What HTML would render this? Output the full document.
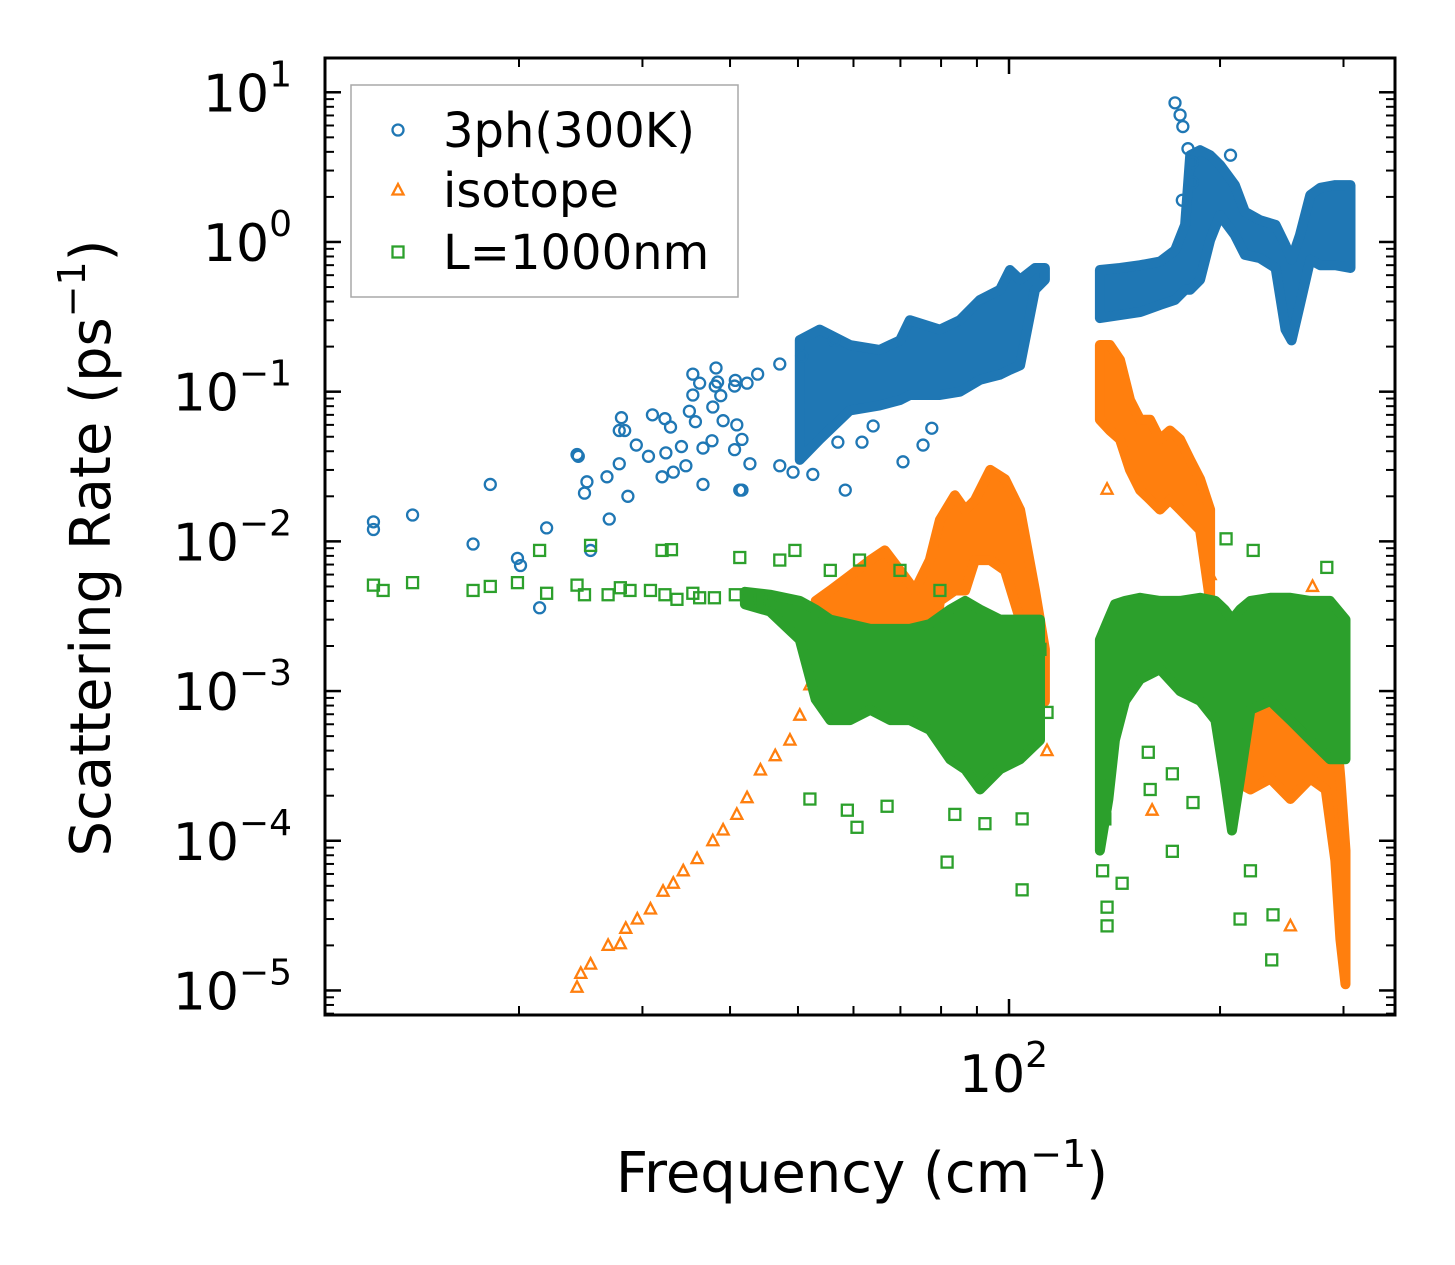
<!DOCTYPE html>
<html><head><meta charset="utf-8"><style>
html,body{margin:0;padding:0;background:#fff;}
svg{display:block;font-family:"DejaVu Sans","Liberation Sans",sans-serif;}
</style></head><body>
<svg id="chart" width="1455" height="1265" viewBox="0 0 1455 1265" xmlns="http://www.w3.org/2000/svg">
<g id="bands"></g>
<g id="marks"></g>
<g id="axes"></g>
</svg>
<script>
// ---- data ----
const phScatter = [[12.4,0.0135],[12.4,0.012],[14.1,0.015],[17.2,0.0096],[18.2,0.024],[19.9,0.0077],[20.1,0.0069],[21.4,0.0036],[21.9,0.0123],[24.2,0.038],[24.3,0.037],[25.0,0.025],[24.8,0.021],[25.3,0.0087],[26.7,0.027],[27.8,0.033],[28.0,0.067],[27.8,0.055],[28.3,0.055],[28.6,0.020],[26.9,0.0141],[29.4,0.044],[30.6,0.037],[31.0,0.070],[32.3,0.066],[32.9,0.058],[32.4,0.039],[32.0,0.027],[33.2,0.029],[34.1,0.043],[34.6,0.032],[35.4,0.131],[35.4,0.095],[36.2,0.114],[35.0,0.074],[35.7,0.063],[36.6,0.042],[37.7,0.047],[36.6,0.024],[38.2,0.144],[38.4,0.116],[38.1,0.109],[37.8,0.079],[38.8,0.094],[39.1,0.064],[40.7,0.119],[40.6,0.109],[40.6,0.041],[41.3,0.022],[41.6,0.048],[40.9,0.060],[42.3,0.114],[43.8,0.131],[47.1,0.153],[50.6,0.173],[56.3,0.22],[42.7,0.033],[47.1,0.032],[49.2,0.029],[52.5,0.028],[41.6,0.022],[58.4,0.022],[57.0,0.046],[61.7,0.046],[70.6,0.034],[75.4,0.044],[77.6,0.057],[64.0,0.059],[172.5,8.5],[175.4,7.05],[177,5.9],[180,4.2],[182.6,3.4],[182.6,2.5],[207,3.8],[176.7,1.9]];
const phBandLeft = [[50.3,0.035,0.221],[53.7,0.048,0.26],[59.3,0.075,0.205],[65.4,0.081,0.19],[69.9,0.088,0.22],[72.2,0.095,0.30],[79.7,0.095,0.26],[85.1,0.10,0.30],[90.9,0.12,0.41],[97.1,0.13,0.48],[100.3,0.14,0.65],[103.7,0.15,0.56],[108.9,0.48,0.67],[112.5,0.56,0.67]];
const phBandRight = [[134.8,0.31,0.65],[144,0.325,0.67],[153.8,0.34,0.70],[164.2,0.38,0.74],[172.5,0.41,0.88],[178.3,0.48,1.30],[181.3,0.48,3.8],[187.3,0.56,4.1],[193.6,1.03,3.8],[200,1.51,3.27],[210,1.11,2.4],[217,0.82,1.59],[228,0.78,1.40],[240,0.67,1.30],[248,0.26,0.95],[253,0.22,0.76],[260,0.38,1.11],[269,0.76,2.06],[278,0.70,2.3],[292,0.70,2.4],[307,0.67,2.4]];

const isoScatter = [[24.2,1.05e-5],[24.5,1.3e-5],[25.3,1.5e-5],[26.8,2.0e-5],[27.9,2.05e-5],[28.4,2.6e-5],[29.5,3.0e-5],[30.8,3.5e-5],[32.1,4.6e-5],[33.2,5.2e-5],[34.3,6.3e-5],[35.9,7.6e-5],[37.8,1.0e-4],[39.1,1.18e-4],[40.9,1.5e-4],[42.3,1.94e-4],[44.2,2.97e-4],[46.4,3.7e-4],[48.7,4.7e-4],[50.3,6.9e-4],[52.0,1.1e-3],[113.3,4.0e-4],[138,0.0223],[138,0.0022],[160,1.6e-4],[252,2.7e-5],[271,0.0050],[193.6,0.0060]];
const isoBandMid = [[53.0,0.00101,0.0040],[55.6,0.001,0.0047],[59.3,0.001,0.0059],[63.4,0.001,0.0075],[66.5,0.001,0.0087],[69.9,0.001,0.0064],[73.4,0.001,0.0047],[77.1,0.0012,0.0075],[79.7,0.0040,0.0139],[83.7,0.0047,0.0203],[86.6,0.0047,0.0162],[89.4,0.0075,0.0188],[94.0,0.0075,0.030],[98.7,0.0064,0.026],[103.7,0.0030,0.0162],[108.9,0.0016,0.0047],[112.5,0.00085,0.0019]];
const isoBandRightTop = [[134.8,0.065,0.205],[139.3,0.055,0.205],[144,0.048,0.163],[148.8,0.030,0.088],[153.8,0.022,0.065],[158.9,0.019,0.065],[164.2,0.0163,0.048],[169.7,0.019,0.055],[175.4,0.0163,0.048],[181.3,0.0139,0.035],[187.3,0.0119,0.026],[193.6,0.0040,0.0163]];
const isoBandRightLow = [[207,2.6e-4,8.6e-4],[221,2.2e-4,1.2e-3],[236,2.6e-4,8.6e-4],[252,1.9e-4,6.4e-4],[269,2.6e-4,8.6e-4],[283,2.2e-4,1.0e-3],[292,7.4e-5,6.4e-4],[297,2.2e-5,2.6e-4],[302,1.1e-5,8.6e-5]];

const bndScatter = [[12.4,0.0051],[12.8,0.0047],[14.1,0.0053],[17.2,0.0047],[18.2,0.0050],[19.9,0.0053],[21.4,0.0087],[21.9,0.0045],[24.2,0.0051],[24.8,0.0044],[25.3,0.0094],[26.8,0.0044],[27.9,0.0049],[28.8,0.0047],[30.8,0.0047],[32.0,0.0087],[33.0,0.0088],[32.3,0.0044],[33.6,0.0041],[35.4,0.0045],[36.2,0.0042],[38.0,0.0042],[40.7,0.0044],[41.3,0.0078],[42.7,0.0040],[44.2,0.0042],[45.6,0.0039],[47.1,0.0075],[47.9,0.0038],[49.5,0.0087],[52.0,1.9e-4],[60.7,1.23e-4],[81.6,7.2e-5],[104.4,4.7e-5],[92.4,1.3e-4],[83.7,1.5e-4],[58.8,1.6e-4],[67.0,1.7e-4],[104.4,1.4e-4],[113.3,7.2e-4],[110.7,1.9e-3],[55.6,0.0064],[61.2,0.0075],[69.9,0.0064],[79.7,0.0047],[204,0.0104],[223,0.0087],[284,0.0067],[138,2.7e-5],[138,3.6e-5],[145,5.2e-5],[159,2.2e-4],[171,8.5e-5],[213.6,3.0e-5],[238,3.2e-5],[237,1.6e-5],[221,6.3e-5],[171,2.8e-4],[183,1.8e-4],[158,3.9e-4],[137,1.4e-4],[136,6.3e-5]];
const bndBandMid = [[42.0,0.0038,0.0046],[45.6,0.0034,0.0044],[50.3,0.0022,0.0040],[53.0,0.00088,0.0035],[55.6,6.4e-4,0.0030],[59.3,6.4e-4,0.0028],[63.4,7.5e-4,0.0026],[67.7,6.4e-4,0.0026],[72.2,6.4e-4,0.0026],[77.1,5.5e-4,0.0028],[82.4,3.5e-4,0.0035],[86.6,3.0e-4,0.0040],[90.9,2.2e-4,0.0035],[97.1,3.0e-4,0.0030],[103.7,3.5e-4,0.0030],[110.7,4.7e-4,0.0030]];
const bndBandRight = [[134.8,8.6e-5,0.0022],[138.6,1.9e-4,0.0030],[141.6,4.7e-4,0.0038],[146.4,8.6e-4,0.0040],[153.8,0.0012,0.0042],[164.2,0.0014,0.0040],[175.4,0.0010,0.0040],[187.3,8.6e-4,0.0042],[197,6.4e-4,0.0040],[203,2.6e-4,0.0035],[208,1.17e-4,0.0030],[213.6,2.6e-4,0.0035],[221,7.5e-4,0.0040],[236,8.6e-4,0.0042],[252,6.4e-4,0.0042],[269,4.7e-4,0.0040],[287,3.5e-4,0.0040],[302,3.5e-4,0.0030]];

const yTickLabels = ["1","0","\u22121","\u22122","\u22123","\u22124","\u22125"];
const yTickExps = [1,0,-1,-2,-3,-4,-5];

// ---- axes ----
const L=325,R=1395,T=58,B=1015;
const xMinLog=1.0243,xMaxLog=2.5506,yMinLog=-5.164,yMaxLog=1.229;
const xS=f=>L+(Math.log10(f)-xMinLog)/(xMaxLog-xMinLog)*(R-L);
const yS=v=>B-(Math.log10(v)-yMinLog)/(yMaxLog-yMinLog)*(B-T);
const NS="http://www.w3.org/2000/svg";
function mk(tag,attrs,parent){const e=document.createElementNS(NS,tag);for(const k in attrs)e.setAttribute(k,attrs[k]);parent.appendChild(e);return e;}
const C={ph:"#1f77b4",iso:"#ff7f0e",bnd:"#2ca02c"};
const bands=document.getElementById('bands'),marks=document.getElementById('marks'),axes=document.getElementById('axes');

function band(arr,color,name,parent){
  let d="";arr.forEach((p,i)=>{d+=(i?"L":"M")+xS(p[0]).toFixed(1)+","+yS(p[2]).toFixed(1);});
  for(let i=arr.length-1;i>=0;i--){d+="L"+xS(arr[i][0]).toFixed(1)+","+yS(arr[i][1]).toFixed(1);}
  d+="Z";
  const e=mk('path',{d:d,fill:color,stroke:color,'stroke-width':10,'stroke-linejoin':'round'},parent);
  
  
}
function marker(type,x,y,color,parent){
  let e;
  if(type==='c'){e=mk('circle',{cx:x,cy:y,r:5.5,fill:'none',stroke:color,'stroke-width':2.3},parent);}
  else if(type==='t'){e=mk('path',{d:`M${x},${y-6}L${x+5.5},${y+4.5}L${x-5.5},${y+4.5}Z`,fill:'none',stroke:color,'stroke-width':2.3},parent);}
  else {e=mk('rect',{x:x-5.5,y:y-5.5,width:11,height:11,fill:'none',stroke:color,'stroke-width':2.3},parent);}
  return e;
}
function series(arr,type,color,name){
  const g=mk('g',{},marks);
  
  
  arr.forEach(p=>{const e=marker(type,xS(p[0]),yS(p[1]),color,g);
    
    });
  return g;
}
// blue
const gPh=mk('g',{},bands);


band(phBandLeft,C.ph,'three-phonon-band-low',gPh);
band(phBandRight,C.ph,'three-phonon-band-high',gPh);
series(phScatter,'c',C.ph,'three-phonon-series');
// orange
const gIso=mk('g',{},marks);


band(isoBandMid,C.iso,'isotope-band-mid',gIso);
band(isoBandRightTop,C.iso,'isotope-band-right-top',gIso);
band(isoBandRightLow,C.iso,'isotope-band-right-low',gIso);
series(isoScatter,'t',C.iso,'isotope-series');
// green
const gB=mk('g',{},marks);


band(bndBandMid,C.bnd,'boundary-band-mid',gB);
band(bndBandRight,C.bnd,'boundary-band-right',gB);
series(bndScatter,'s',C.bnd,'boundary-series');

// frame
const fr=mk('rect',{x:L,y:T,width:R-L,height:B-T,fill:'none',stroke:'#000','stroke-width':3},axes);


// y ticks
for(let e=-6;e<=1;e++){
  for(let m=1;m<10;m++){
    const v=m*Math.pow(10,e); if(Math.log10(v)<yMinLog||Math.log10(v)>yMaxLog)continue;
    const y=yS(v),len=m===1?16:9,w=m===1?2.5:2;
    const t1=mk('line',{x1:L,x2:L+len,y1:y,y2:y,stroke:'#000','stroke-width':w},axes);
    
    
    const t2=mk('line',{x1:R,x2:R-len,y1:y,y2:y,stroke:'#000','stroke-width':w},axes);
    
    
  }
}
yTickExps.forEach((ex,i)=>{
  const y=yS(Math.pow(10,ex));
  const t=mk('text',{x:292,y:y+19,'text-anchor':'end','font-size':52,fill:'#000'},axes);
  
  
  const a=mk('tspan',{},t);a.textContent="10";
  const b=mk('tspan',{dy:-25,'font-size':36},t);b.textContent=yTickLabels[i];
});
// x ticks
[20,30,40,50,60,70,80,90,100,200,300].forEach(f=>{
  const x=xS(f),len=f===100?16:9,w=f===100?2.5:2;
  const t1=mk('line',{x1:x,x2:x,y1:B,y2:B-len,stroke:'#000','stroke-width':w},axes);
  
  
  const t2=mk('line',{x1:x,x2:x,y1:T,y2:T+len,stroke:'#000','stroke-width':w},axes);
  
  
});
const xl=mk('text',{x:xS(100)-50,y:1092,'font-size':52,fill:'#000'},axes);


{const a=mk('tspan',{},xl);a.textContent="10";const b=mk('tspan',{dy:-25,'font-size':36},xl);b.textContent="2";}
// titles
const xt=mk('text',{x:862,y:1192,'text-anchor':'middle','font-size':56,fill:'#000'},axes);


{const a=mk('tspan',{},xt);a.textContent="Frequency (cm";const b=mk('tspan',{dy:-25,'font-size':38},xt);b.textContent="\u22121";const c=mk('tspan',{dy:25},xt);c.textContent=")";}
const yt=mk('text',{x:0,y:0,'text-anchor':'middle','font-size':56,fill:'#000',transform:'translate(110,548) rotate(-90)'},axes);


{const a=mk('tspan',{},yt);a.textContent="Scattering Rate (ps";const b=mk('tspan',{dy:-25,'font-size':38},yt);b.textContent="\u22121";const c=mk('tspan',{dy:25},yt);c.textContent=")";}
// legend
const lg=mk('g',{},axes);


mk('rect',{x:351,y:85,width:387,height:212,fill:'#fff','fill-opacity':0.85,stroke:'#a8a8a8','stroke-width':1.5},lg);
[["3ph(300K)",'c',C.ph,130],["isotope",'t',C.iso,190],["L=1000nm",'s',C.bnd,252]].forEach(en=>{
  const g=mk('g',{},lg);
  
  
  marker(en[1],398,en[3],en[2],g);
  const t=mk('text',{x:443,y:en[3]+17,'font-size':48,fill:'#000'},g);t.textContent=en[0];
});
</script>
</body></html>
